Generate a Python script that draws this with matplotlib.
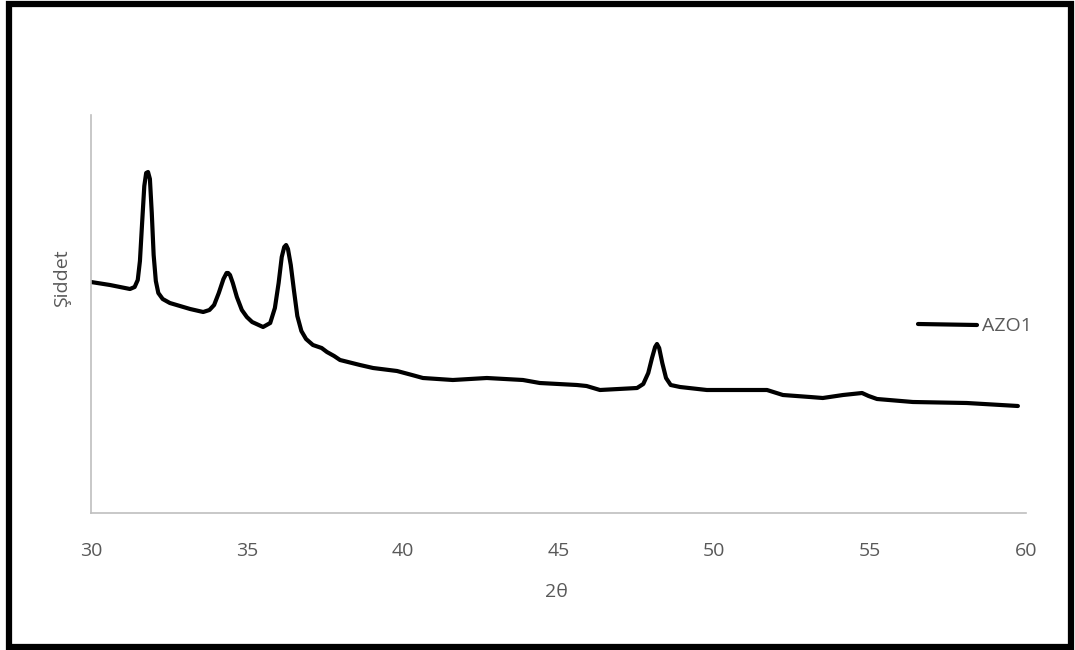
#!/usr/bin/env python3
"""XRD pattern of the AZO1 film, drawn in the style of a spreadsheet chart."""

import matplotlib

matplotlib.use("Agg")
import matplotlib.pyplot as plt
from matplotlib.lines import Line2D
from matplotlib.patches import Rectangle

# 2-theta positions (degrees) and measured intensity (arbitrary units)
two_theta = [
    30.00, 30.61, 31.25, 31.40, 31.50, 31.57, 31.64, 31.71, 31.77, 31.83,
    31.89, 31.95, 32.01, 32.08, 32.16, 32.30, 32.53, 33.18, 33.60, 33.80,
    33.95, 34.10, 34.25, 34.35, 34.40, 34.46, 34.55, 34.68, 34.84, 35.00,
    35.17, 35.52, 35.75, 35.90, 36.02, 36.12, 36.20, 36.26, 36.32, 36.41,
    36.51, 36.62, 36.75, 36.90, 37.12, 37.40, 37.57, 37.80, 37.99, 38.63,
    39.05, 39.82, 40.30, 40.65, 41.61, 42.70, 43.86, 44.40, 45.59, 45.90,
    46.33, 47.52, 47.72, 47.88, 48.00, 48.10, 48.16, 48.23, 48.33, 48.45,
    48.60, 48.90, 49.76, 51.69, 52.20, 53.07, 53.48, 54.13, 54.74, 54.95,
    55.22, 56.37, 58.10, 59.74,
]
intensity = [
    231, 228, 224, 226, 233, 252, 290, 327, 340, 341,
    334, 300, 258, 232, 220, 214, 210, 204, 201, 203,
    208, 220, 234, 240, 240, 238, 230, 216, 203, 196,
    191, 186, 190, 205, 230, 256, 266, 268, 264, 248,
    223, 197, 182, 174, 168, 165, 161, 157, 153, 148,
    145, 142, 138, 135, 133, 135, 133, 130, 128, 127,
    123, 125, 129, 140, 155, 166, 169, 165, 150, 135,
    128, 126, 123, 123, 118, 116, 115, 118, 120, 117,
    114, 111, 110, 107,
]

x_ticks = [30, 35, 40, 45, 50, 55, 60]
series_name = "AZO1"
x_label = "2θ"
y_label = "Şiddet"

TEXT_GREY = "#595959"
AXIS_GREY = "#BFBFBF"
FONT = "Open Sans"

W, H = 1075, 650
fig = plt.figure(figsize=(W / 100, H / 100), dpi=100)
ax = fig.add_axes([91 / W, 1 - 513 / H, (1026 - 91) / W, (513 - 115) / H])

ax.plot(two_theta, intensity, color="black", lw=3.0,
        solid_joinstyle="round", solid_capstyle="round")

ax.set_xlim(30, 60)
ax.set_ylim(0, 398)
ax.set_xticks(x_ticks)
ax.set_xticklabels([str(t) for t in x_ticks], fontsize=14,
                   color=TEXT_GREY, family=FONT)
ax.set_yticks([])
ax.tick_params(axis="x", length=0, pad=21)

for side in ("top", "right"):
    ax.spines[side].set_visible(False)
for side in ("left", "bottom"):
    ax.spines[side].set_color(AXIS_GREY)
    ax.spines[side].set_linewidth(1.2)

fig.text(556 / W, 1 - 592 / H, x_label, ha="center", va="center",
         fontsize=14, color=TEXT_GREY, family=FONT)
fig.text(62 / W, 1 - 278 / H, y_label, ha="center", va="center",
         rotation=90, fontsize=14, color=TEXT_GREY, family=FONT)

# legend entry on the right-hand side
fig.add_artist(Line2D([918 / W, 977 / W], [1 - 324 / H, 1 - 325 / H],
                      color="black", lw=3.0, solid_capstyle="round"))
fig.text(982 / W, 1 - 326 / H, series_name, ha="left", va="center",
         fontsize=14, color=TEXT_GREY, family=FONT)

# heavy black frame round the whole chart
fig.add_artist(Rectangle((8.5 / W, 3.5 / H), (1071 - 8.5) / W, (646.5 - 3.5) / H,
                         fill=False, edgecolor="black", lw=4.5,
                         transform=fig.transFigure))

fig.savefig("out.png", dpi=100)
